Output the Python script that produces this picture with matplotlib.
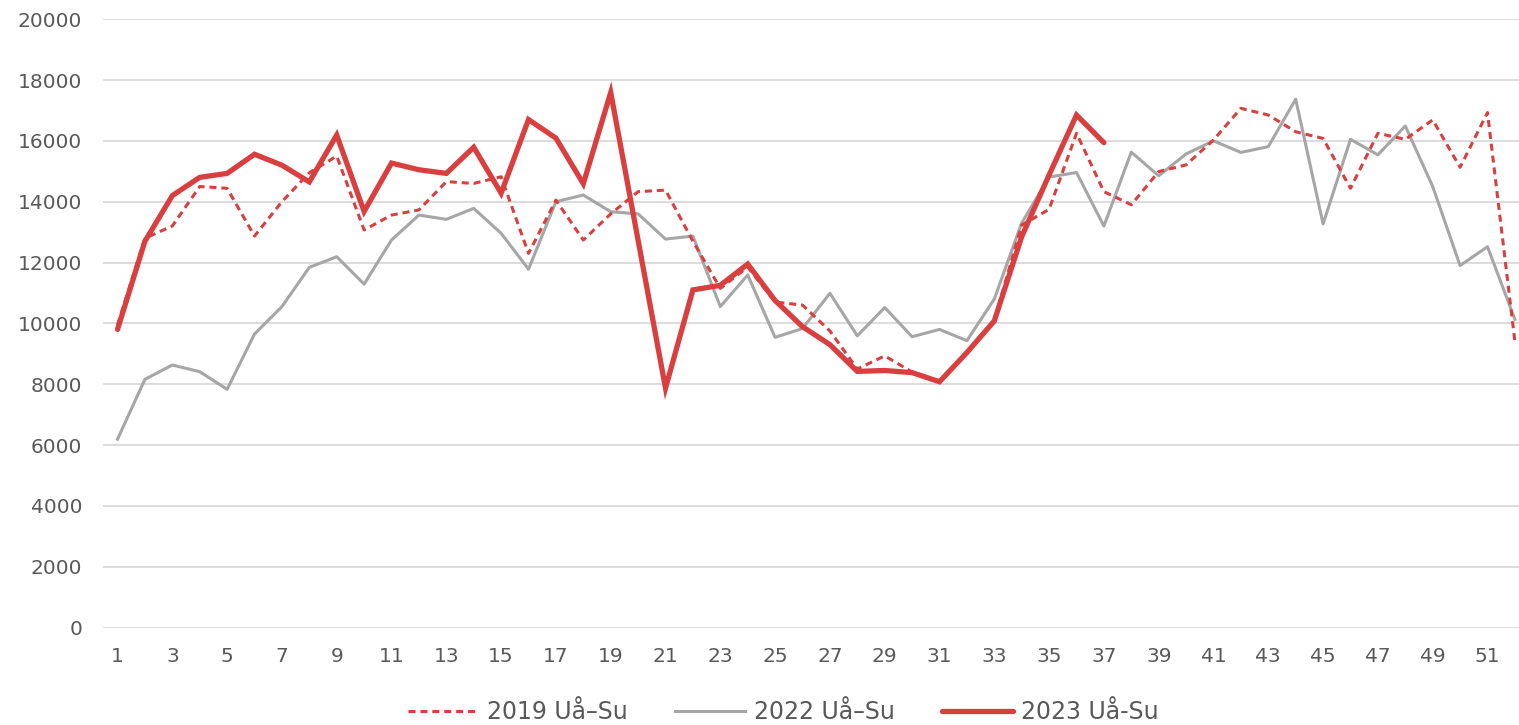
import matplotlib.pyplot as plt
import numpy as np

# weekly values
weeks_2019 = list(range(1, 53))
vals_2019 = [9950, 12800, 13200, 14500, 14440, 12870, 14000, 14950, 15500, 13070,
             13560, 13730, 14660, 14600, 14820, 12300, 14050, 12740, 13600, 14330,
             14380, 12700, 11150, 11850, 10700, 10600, 9750, 8500, 8930, 8400,
             8080, 9050, 10100, 13230, 13750, 16250, 14330, 13900, 14990, 15210,
             16030, 17070, 16850, 16300, 16080, 14440, 16250, 16050, 16690, 15130,
             16930, 9400]

weeks_2022 = list(range(1, 53))
vals_2022 = [6190, 8160, 8630, 8410, 7830, 9650, 10550, 11840, 12190, 11290,
             12740, 13560, 13420, 13780, 12960, 11780, 14000, 14220, 13670, 13600,
             12770, 12870, 10550, 11590, 9540, 9830, 10990, 9590, 10520, 9560,
             9800, 9430, 10800, 13300, 14810, 14960, 13200, 15630, 14850, 15570,
             16000, 15620, 15810, 17370, 13270, 16050, 15540, 16490, 14500, 11900,
             12520, 10130]

weeks_2023 = list(range(1, 38))
vals_2023 = [9800, 12700, 14200, 14800, 14930, 15560, 15200, 14650, 16190, 13680,
             15270, 15050, 14930, 15790, 14280, 16700, 16090, 14590, 17590, 12730,
             7870, 11100, 11250, 11950, 10750, 9890, 9300, 8420, 8450, 8380,
             8080, 9040, 10080, 12850, 14880, 16850, 15940]

labels = ['2019 Uå–Su', '2022 Uå–Su', '2023 Uå-Su']
x_ticks = list(range(1, 52, 2))
y_ticks = list(range(0, 20001, 2000))

red = '#DA3F40'
grey = '#A6A6A6'
txt = '#595959'

fig = plt.figure(figsize=(15.19, 7.25), dpi=100)
ax = fig.add_axes([103 / 1519, 1 - 627.5 / 725, (1519 - 103) / 1519, (627.5 - 19.2) / 725])

ax.plot(weeks_2019, vals_2019, color=red, lw=2.2, ls=(0, (2.3, 1.6)), label=labels[0], zorder=3)
ax.plot(weeks_2022, vals_2022, color=grey, lw=2.2, label=labels[1], zorder=2)
ax.plot(weeks_2023, vals_2023, color=red, lw=3.8, label=labels[2], zorder=4,
        solid_capstyle='round', solid_joinstyle='miter')

ax.set_xlim(0.47, 52.15)
ax.set_ylim(0, 20000)
ax.set_xticks(x_ticks)
ax.set_yticks(y_ticks)
ax.tick_params(axis='both', length=0, labelsize=14.5, labelcolor=txt)
ax.tick_params(axis='y', pad=15)
ax.tick_params(axis='x', pad=14)
ax.grid(axis='y', color='#D9D9D9', lw=1.3, zorder=0)
ax.set_axisbelow(True)
for s in ax.spines.values():
    s.set_visible(False)

leg = fig.legend(loc='center', bbox_to_anchor=(783 / 1519, 1 - 712 / 725), ncol=3,
                 frameon=False, fontsize=17, handlelength=3.0, handletextpad=0.35,
                 columnspacing=2.0)
for t in leg.get_texts():
    t.set_color(txt)

fig.savefig('out.png', dpi=100)
